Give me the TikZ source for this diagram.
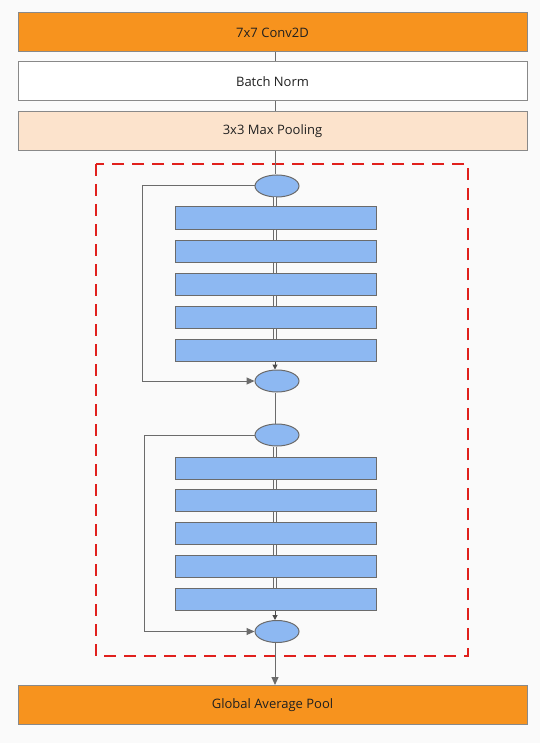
\documentclass[tikz,border=0pt]{standalone}
\usepackage{fontspec}
\setmainfont{Open Sans}
\usetikzlibrary{arrows.meta,shapes.geometric}
\definecolor{bg}{HTML}{FAFAFA}
\definecolor{orng}{HTML}{F7931E}
\definecolor{peach}{HTML}{FCE3CC}
\definecolor{lblue}{HTML}{8DB8F2}
\definecolor{edge}{HTML}{6B6B6B}
\definecolor{dred}{HTML}{E0201C}
\definecolor{txt}{HTML}{202020}
\begin{document}
\begin{tikzpicture}[x=1pt,y=-1pt,
  layer/.style={draw=edge!80,line width=1pt,minimum width=509pt,minimum height=39pt,inner sep=0pt,text=txt,font=\fontsize{13}{15}\selectfont},
  blk/.style={draw=edge,fill=lblue,line width=1pt,minimum width=201pt,minimum height=22pt,inner sep=0pt},
  add/.style={ellipse,draw=edge,fill=lblue,line width=1pt,minimum width=44pt,minimum height=22pt,inner sep=0pt},
  conn/.style={draw=edge,line width=1pt},
  dconn/.style={draw=edge,line width=1pt,double=bg,double distance=1.6pt},
  tip/.style={-{Triangle[length=8pt,width=7pt]}},
  stip/.style={-{Triangle[length=5pt,width=5pt]}}]
\fill[bg] (0,0) rectangle (540,743);
\useasboundingbox (0,0) rectangle (540,743);
% top layers
\node[layer,fill=orng] (conv) at (272.5,32.5) {7x7 Conv2D};
\node[layer,fill=white] (bn) at (272.5,81.5) {Batch Norm};
\node[layer,fill=peach] (mp) at (272.5,131.5) {3x3 Max Pooling};
\node[layer,fill=orng] (gap) at (272.5,705) {Global Average Pool};
% dashed container
\draw[dred,line width=2.6pt,dash pattern=on 12pt off 8pt] (96,164) rectangle (468,656);
% block 1
\node[add] (a1) at (277,186) {};
\node[blk] (r11) at (275.5,218) {};
\node[blk] (r12) at (275.5,251) {};
\node[blk] (r13) at (275.5,284) {};
\node[blk] (r14) at (275.5,317) {};
\node[blk] (r15) at (275.5,350) {};
\node[add] (a2) at (277,381) {};
% block 2
\node[add] (a3) at (277,435) {};
\node[blk] (r21) at (275.5,468) {};
\node[blk] (r22) at (275.5,500.5) {};
\node[blk] (r23) at (275.5,533.5) {};
\node[blk] (r24) at (275.5,566) {};
\node[blk] (r25) at (275.5,599) {};
\node[add] (a4) at (277,631.5) {};
% coordinates for skip paths
\coordinate (s1) at (142,186);
\coordinate (s2) at (142,381);
\coordinate (s3) at (144,435);
\coordinate (s4) at (144,631.5);
% connectors
\draw[conn] (conv.south -| 275,0) -- (bn.north -| 275,0);
\draw[conn] (bn.south -| 275,0) -- (mp.north -| 275,0);
\draw[conn] (mp.south -| 275,0) -- (a1.north -| 275,0);
\draw[dconn] (a1.south -| 275,0) -- (r11.north -| 275,0);
\draw[dconn] (r11.south -| 275,0) -- (r12.north -| 275,0);
\draw[dconn] (r12.south -| 275,0) -- (r13.north -| 275,0);
\draw[dconn] (r13.south -| 275,0) -- (r14.north -| 275,0);
\draw[dconn] (r14.south -| 275,0) -- (r15.north -| 275,0);
\draw[conn,stip,draw=edge!70!black] (r15.south -| 275,0) -- (a2.north -| 275,0);
\draw[conn] (a2.south -| 275,0) -- (a3.north -| 275,0);
\draw[dconn] (a3.south -| 275,0) -- (r21.north -| 275,0);
\draw[dconn] (r21.south -| 275,0) -- (r22.north -| 275,0);
\draw[dconn] (r22.south -| 275,0) -- (r23.north -| 275,0);
\draw[dconn] (r23.south -| 275,0) -- (r24.north -| 275,0);
\draw[dconn] (r24.south -| 275,0) -- (r25.north -| 275,0);
\draw[conn,stip,draw=edge!70!black] (r25.south -| 275,0) -- (a4.north -| 275,0);
\draw[conn,tip] (a4.south -| 275,0) -- (gap.north -| 275,0);
\draw[conn,tip] (a1.west) -- (s1) -- (s2) -- (a2.west);
\draw[conn,tip] (a3.west) -- (s3) -- (s4) -- (a4.west);
\end{tikzpicture}
\end{document}
